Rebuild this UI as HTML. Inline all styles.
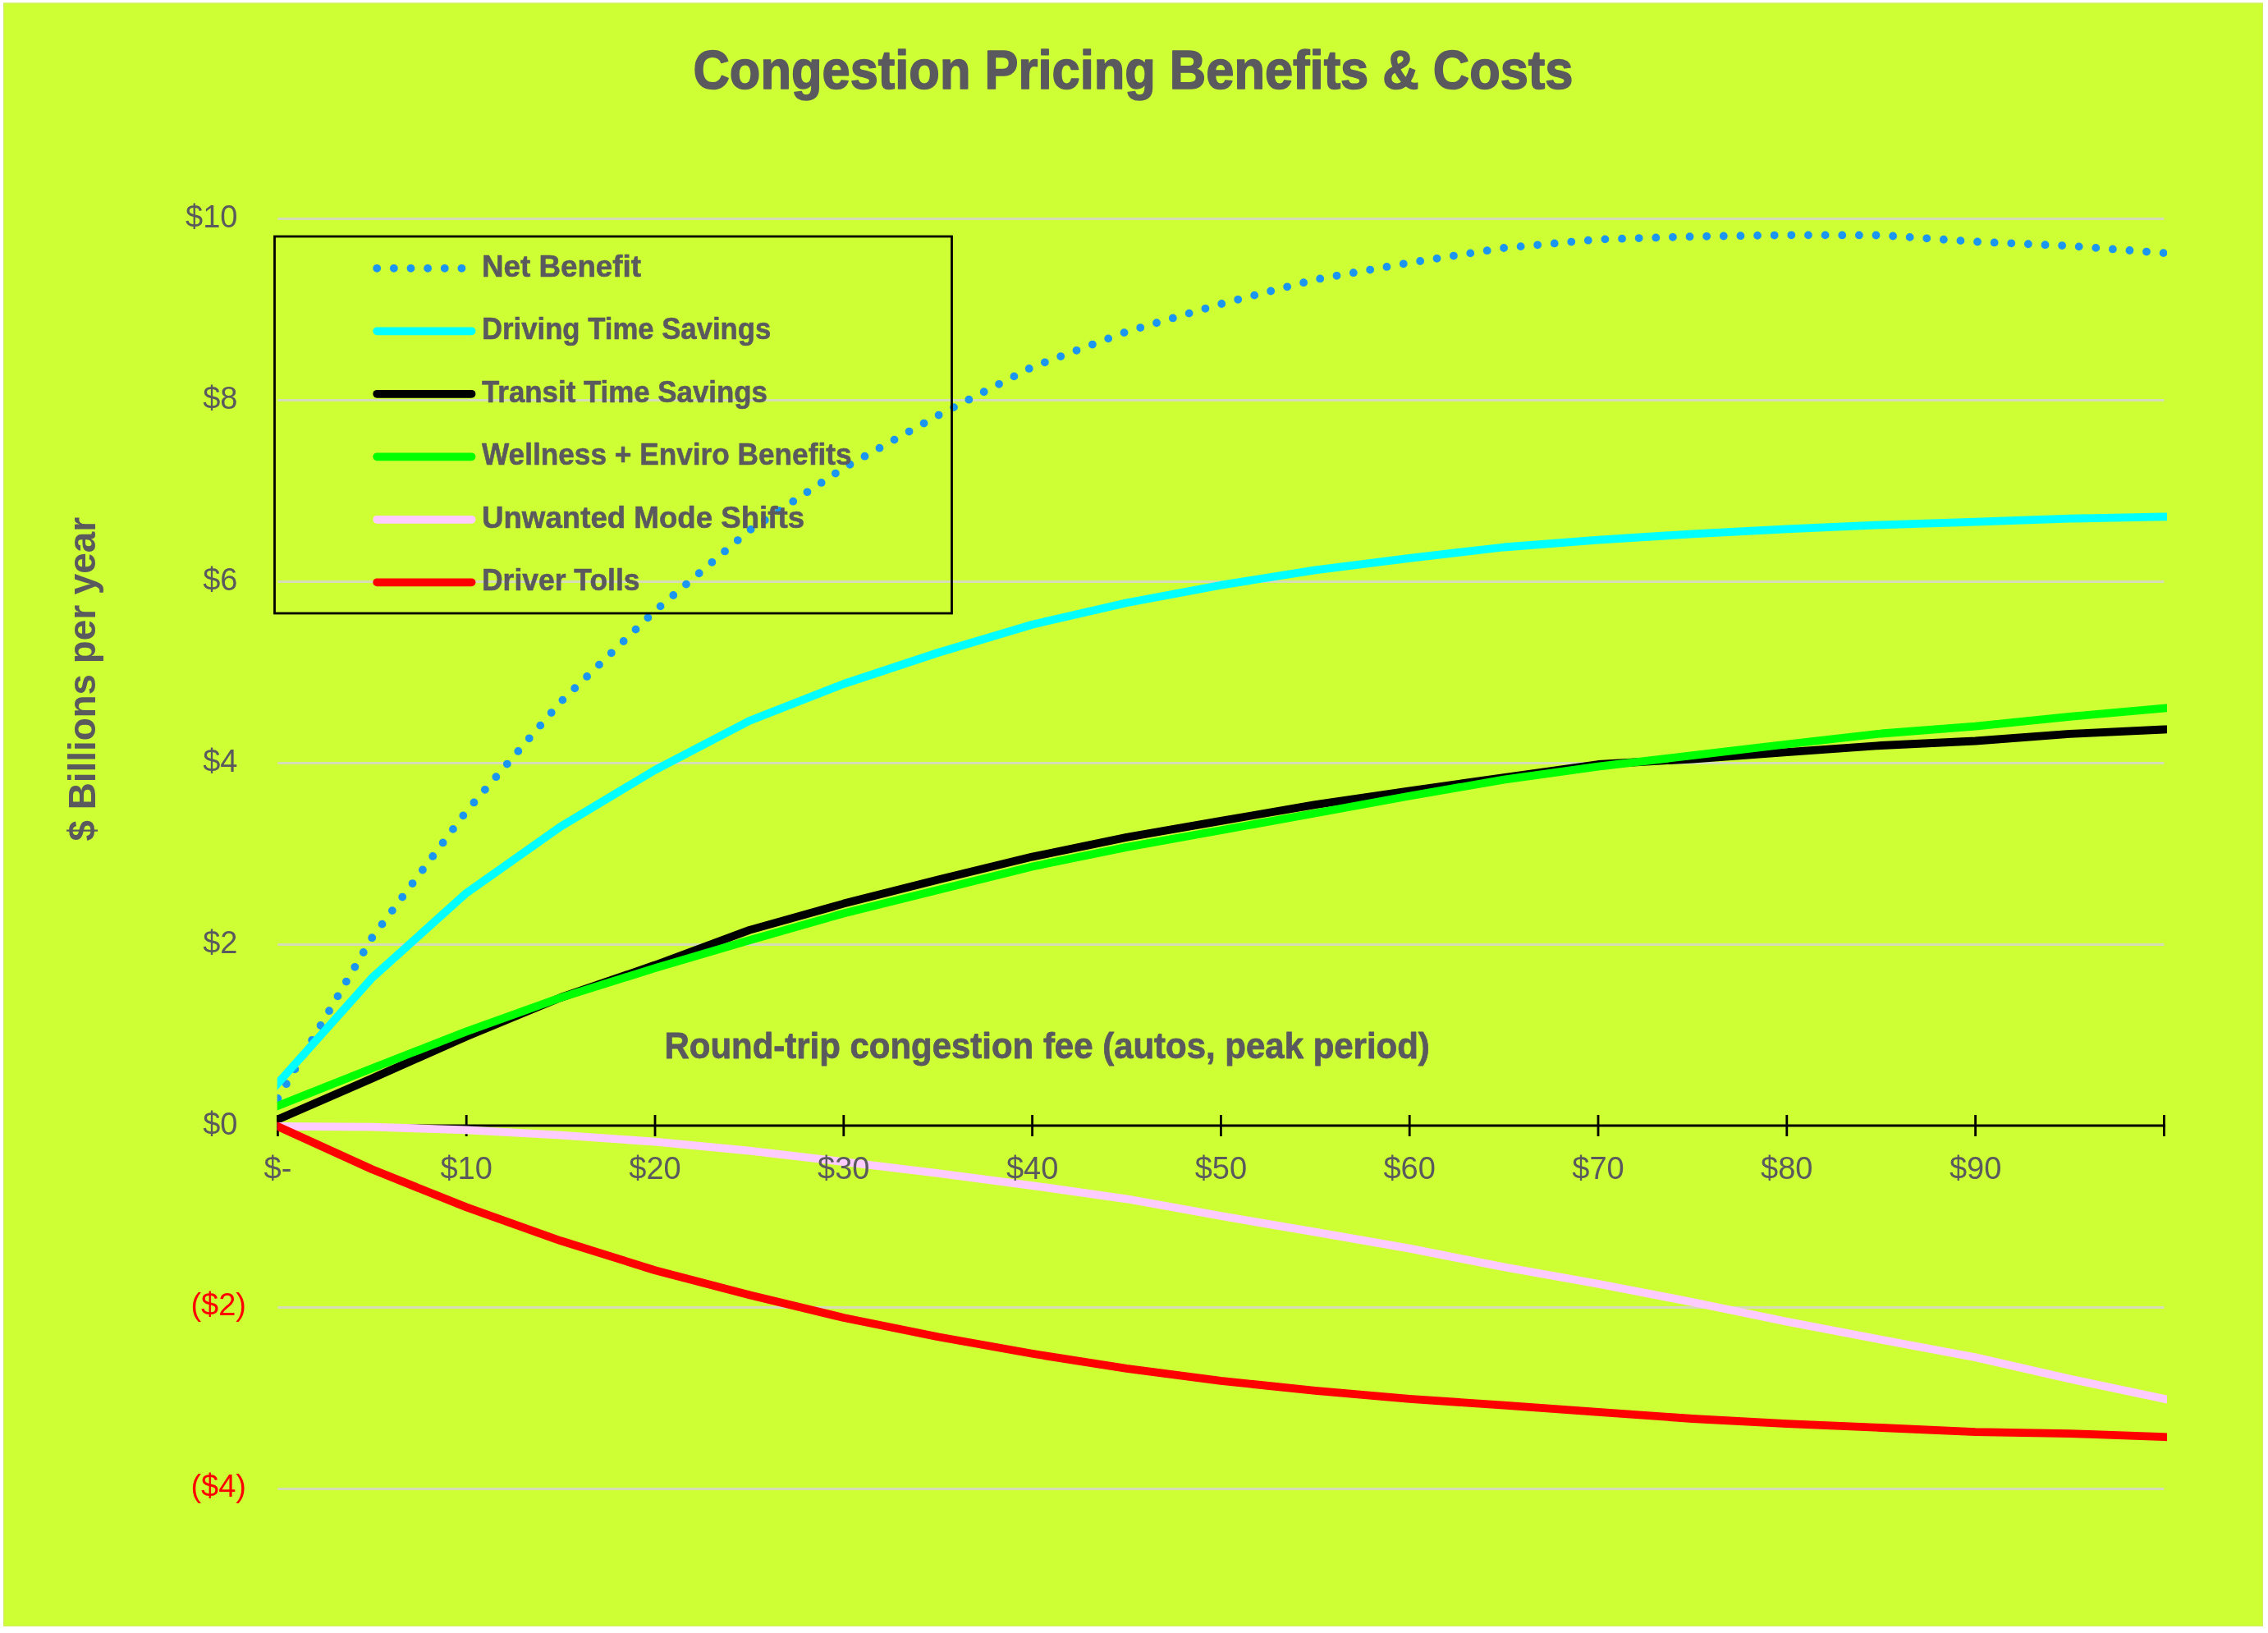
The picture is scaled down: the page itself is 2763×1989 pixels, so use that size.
<!DOCTYPE html>
<html><head><meta charset="utf-8">
<style>
html,body{margin:0;padding:0;background:#fff;width:2763px;height:1989px;overflow:hidden}
svg{display:block;filter:blur(0.6px)}
text{font-family:"Liberation Sans",sans-serif}
</style></head><body>
<svg width="2763" height="1989" viewBox="0 0 2763 1989">
<defs><clipPath id="pa"><rect x="337.7" y="0" width="2302.3" height="1989"/></clipPath></defs>
<rect x="0" y="0" width="2763" height="1989" fill="#ffffff"/>
<rect x="4" y="3.5" width="2753" height="1977.5" fill="#cdff34"/>
<rect x="4.6" y="4.1" width="2751.8" height="1976.3" fill="none" stroke="#d2ee60" stroke-width="1.2"/>
<g stroke="#d6dcb8" stroke-width="3"><line x1="338.4" y1="266.6" x2="2636.4" y2="266.6"/><line x1="338.4" y1="487.6" x2="2636.4" y2="487.6"/><line x1="338.4" y1="708.6" x2="2636.4" y2="708.6"/><line x1="338.4" y1="929.6" x2="2636.4" y2="929.6"/><line x1="338.4" y1="1150.6" x2="2636.4" y2="1150.6"/><line x1="338.4" y1="1592.6" x2="2636.4" y2="1592.6"/><line x1="338.4" y1="1813.6" x2="2636.4" y2="1813.6"/></g>
<g stroke="#000" stroke-width="2.8">
<line x1="338.4" y1="1371" x2="2637.9" y2="1371"/>
<line x1="338.4" y1="1358" x2="338.4" y2="1384"/><line x1="568.2" y1="1358" x2="568.2" y2="1384"/><line x1="798.0" y1="1358" x2="798.0" y2="1384"/><line x1="1027.8" y1="1358" x2="1027.8" y2="1384"/><line x1="1257.6" y1="1358" x2="1257.6" y2="1384"/><line x1="1487.4" y1="1358" x2="1487.4" y2="1384"/><line x1="1717.2" y1="1358" x2="1717.2" y2="1384"/><line x1="1947.0" y1="1358" x2="1947.0" y2="1384"/><line x1="2176.8" y1="1358" x2="2176.8" y2="1384"/><line x1="2406.6" y1="1358" x2="2406.6" y2="1384"/><line x1="2636.4" y1="1358" x2="2636.4" y2="1384"/>
</g>
<g clip-path="url(#pa)" fill="none" stroke-width="9.8" stroke-linejoin="round">
<polyline points="338.4,1338.0 453.3,1142.0 568.2,988.1 683.1,854.8 798.0,744.0 912.9,646.0 1027.8,570.0 1142.7,506.0 1257.6,447.0 1372.5,404.0 1487.4,370.2 1602.3,340.5 1717.2,320.0 1832.1,302.0 1947.0,291.6 2061.9,288.1 2176.8,286.3 2291.7,286.5 2406.6,294.4 2521.5,299.5 2636.4,308.2" stroke="#1a96f0" stroke-linecap="round" stroke-dasharray="0 20.635"/>
<polyline points="326.4,1332.9 338.4,1319.5 453.3,1191.0 568.2,1087.7 683.1,1006.7 798.0,937.9 912.9,878.0 1027.8,833.0 1142.7,795.0 1257.6,760.7 1372.5,734.2 1487.4,712.7 1602.3,694.3 1717.2,679.8 1832.1,666.5 1947.0,657.6 2061.9,650.4 2176.8,644.4 2291.7,639.3 2406.6,635.7 2521.5,631.7 2636.4,629.4 2648.4,629.2" stroke="#00ffff"/>
<polyline points="326.4,1368.7 338.4,1363.5 453.3,1313.4 568.2,1262.5 683.1,1215.0 798.0,1175.5 912.9,1132.9 1027.8,1100.6 1142.7,1071.4 1257.6,1043.6 1372.5,1019.9 1487.4,999.8 1602.3,980.2 1717.2,963.4 1832.1,947.0 1947.0,931.0 2061.9,924.5 2176.8,916.2 2291.7,908.0 2406.6,902.5 2521.5,893.9 2636.4,888.5 2648.4,887.9" stroke="#000000"/>
<polyline points="326.4,1351.8 338.4,1347.0 453.3,1301.2 568.2,1256.4 683.1,1215.2 798.0,1179.1 912.9,1145.3 1027.8,1112.5 1142.7,1084.1 1257.6,1055.5 1372.5,1031.9 1487.4,1011.2 1602.3,990.5 1717.2,969.5 1832.1,949.7 1947.0,933.6 2061.9,920.2 2176.8,906.5 2291.7,893.5 2406.6,884.7 2521.5,872.8 2636.4,862.7 2648.4,861.6" stroke="#00ff00"/>
<polyline points="326.4,1371.8 338.4,1371.9 453.3,1372.6 568.2,1376.3 683.1,1382.6 798.0,1390.7 912.9,1401.7 1027.8,1415.1 1142.7,1429.0 1257.6,1444.1 1372.5,1460.3 1487.4,1481.0 1602.3,1500.7 1717.2,1520.7 1832.1,1543.3 1947.0,1563.7 2061.9,1586.0 2176.8,1609.7 2291.7,1631.7 2406.6,1653.3 2521.5,1679.5 2636.4,1703.8 2648.4,1706.3" stroke="#ffccff"/>
<polyline points="326.4,1366.5 338.4,1372.0 453.3,1424.3 568.2,1470.4 683.1,1511.3 798.0,1547.2 912.9,1577.2 1027.8,1605.0 1142.7,1628.3 1257.6,1648.8 1372.5,1666.9 1487.4,1681.9 1602.3,1693.8 1717.2,1703.8 1832.1,1711.7 1947.0,1719.8 2061.9,1728.0 2176.8,1734.2 2291.7,1739.0 2406.6,1744.2 2521.5,1746.1 2636.4,1750.2 2648.4,1750.6" stroke="#ff0000"/>
</g>
<rect x="334.5" y="288" width="825" height="459" fill="none" stroke="#000" stroke-width="2.8"/>
<line x1="459.2" y1="326.8" x2="574.5" y2="326.8" stroke="#1a96f0" stroke-width="9.8" stroke-linecap="round" stroke-dasharray="0 20.635"/><line x1="459.2" y1="403.3" x2="574.5" y2="403.3" stroke="#00ffff" stroke-width="9.8" stroke-linecap="round"/><line x1="459.2" y1="479.8" x2="574.5" y2="479.8" stroke="#000000" stroke-width="9.8" stroke-linecap="round"/><line x1="459.2" y1="556.3" x2="574.5" y2="556.3" stroke="#00ff00" stroke-width="9.8" stroke-linecap="round"/><line x1="459.2" y1="632.8" x2="574.5" y2="632.8" stroke="#ffccff" stroke-width="9.8" stroke-linecap="round"/><line x1="459.2" y1="709.3" x2="574.5" y2="709.3" stroke="#ff0000" stroke-width="9.8" stroke-linecap="round"/>
<g fill="#5a5a5e" font-weight="bold" font-size="37.5" stroke="#5a5a5e" stroke-width="0.6" stroke-linejoin="round"><text x="587" y="336.6" textLength="194.0" lengthAdjust="spacingAndGlyphs">Net Benefit</text><text x="587" y="413.1" textLength="352.3" lengthAdjust="spacingAndGlyphs">Driving Time Savings</text><text x="587" y="489.6" textLength="348.0" lengthAdjust="spacingAndGlyphs">Transit Time Savings</text><text x="587" y="566.1" textLength="450.5" lengthAdjust="spacingAndGlyphs">Wellness + Enviro Benefits</text><text x="587" y="642.6" textLength="393.1" lengthAdjust="spacingAndGlyphs">Unwanted Mode Shifts</text><text x="587" y="719.1" textLength="192.5" lengthAdjust="spacingAndGlyphs">Driver Tolls</text></g>
<g fill="#5a5a5e" font-size="38"><text x="289.5" y="276.6" text-anchor="end">$10</text><text x="289.5" y="497.6" text-anchor="end">$8</text><text x="289.5" y="718.6" text-anchor="end">$6</text><text x="289.5" y="939.6" text-anchor="end">$4</text><text x="289.5" y="1160.6" text-anchor="end">$2</text><text x="289.5" y="1381.6" text-anchor="end">$0</text><text x="338.4" y="1435.5" text-anchor="middle">$-</text><text x="568.2" y="1435.5" text-anchor="middle">$10</text><text x="798.0" y="1435.5" text-anchor="middle">$20</text><text x="1027.8" y="1435.5" text-anchor="middle">$30</text><text x="1257.6" y="1435.5" text-anchor="middle">$40</text><text x="1487.4" y="1435.5" text-anchor="middle">$50</text><text x="1717.2" y="1435.5" text-anchor="middle">$60</text><text x="1947.0" y="1435.5" text-anchor="middle">$70</text><text x="2176.8" y="1435.5" text-anchor="middle">$80</text><text x="2406.6" y="1435.5" text-anchor="middle">$90</text></g>
<g fill="#ff0000" font-size="38"><text x="300" y="1602.1" text-anchor="end">($2)</text><text x="300" y="1823.1" text-anchor="end">($4)</text></g>
<text x="844.5" y="107.7" font-size="67.5" font-weight="bold" fill="#5a5a5e" stroke="#5a5a5e" stroke-width="1.6" stroke-linejoin="round" textLength="1072" lengthAdjust="spacingAndGlyphs">Congestion Pricing Benefits &amp; Costs</text>
<text x="809.5" y="1288.7" font-size="43.5" font-weight="bold" fill="#5a5a5e" stroke="#5a5a5e" stroke-width="0.8" stroke-linejoin="round" textLength="932.3" lengthAdjust="spacingAndGlyphs">Round-trip congestion fee (autos, peak period)</text>
<text transform="translate(116,1024.5) rotate(-90)" x="0" y="0" font-size="47" font-weight="bold" fill="#5a5a5e" textLength="394.5" lengthAdjust="spacingAndGlyphs">$ Billions per year</text>
</svg>
</body></html>
